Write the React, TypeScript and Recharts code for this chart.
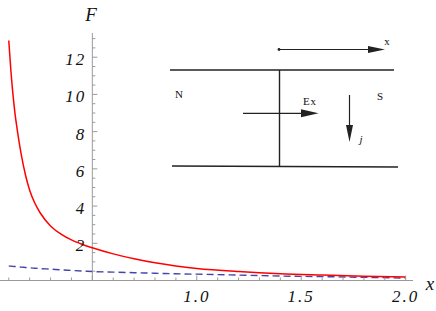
import React from 'react';
import { LineChart, Line, XAxis, YAxis, ReferenceLine, Customized } from 'recharts';

// values
const xValues = [0.1, 0.11, 0.12, 0.13, 0.14, 0.16, 0.18, 0.2, 0.225, 0.25, 0.3, 0.35, 0.4, 0.45, 0.5, 0.6, 0.7, 0.8, 0.9, 1.0, 1.2, 1.4, 1.6, 1.8, 2.0];
const redF = [12.9, 11.3, 10.0, 8.95, 8.14, 6.75, 5.67, 4.85, 4.15, 3.64, 2.93, 2.49, 2.18, 1.95, 1.76, 1.43, 1.17, 0.95, 0.78, 0.65, 0.48, 0.36, 0.29, 0.23, 0.19];
const blueF = [0.78, 0.77, 0.76, 0.75, 0.74, 0.72, 0.7, 0.68, 0.66, 0.64, 0.61, 0.57, 0.54, 0.51, 0.48, 0.45, 0.42, 0.39, 0.36, 0.34, 0.29, 0.24, 0.21, 0.17, 0.13];

const xLabels = [1.0, 1.5, 2.0];
const yLabels = [2, 4, 6, 8, 10, 12];
const xTicks = [0.1, 0.2, 0.3, 0.4, 0.5, 0.6, 0.7, 0.8, 0.9, 1.0, 1.1, 1.2, 1.3, 1.4, 1.5, 1.6, 1.7, 1.8, 1.9, 2.0];
const yTicks = [0.5, 1, 1.5, 2, 2.5, 3, 3.5, 4, 4.5, 5, 5.5, 6, 6.5, 7, 7.5, 8, 8.5, 9, 9.5, 10, 10.5, 11, 11.5, 12, 12.5, 13];

const data = xValues.map((x, i) => ({ x, red: redF[i], blue: blueF[i] }));

const W = 436;
const H = 311;
const X_MIN = 0.058;
const X_MAX = 2.035;
const Y_MAX = 13.3;
const PLOT_LEFT = 0;
const PLOT_W = 413;
const Y_AXIS_AT = 0.5;
const AXIS_X = PLOT_LEFT + ((Y_AXIS_AT - X_MIN) / (X_MAX - X_MIN)) * PLOT_W;

const AXIS_COLOR = '#9a9a9a';
const LABEL_FONT = '"Liberation Serif", "DejaVu Serif", serif';

const near = (a: number, b: number) => Math.abs(a - b) < 1e-6;

const XTick = (props: any) => {
  const { x, y, payload } = props;
  const v = payload.value;
  const labelled = xLabels.some(l => near(l, v));
  const major = labelled || near(v, 0.5);
  return (
    <g>
      <line x1={x} x2={x} y1={y} y2={y - (major ? 5 : 3)} stroke={AXIS_COLOR} strokeWidth={1} />
      {labelled && (
        <text x={x} y={y + 21} textAnchor="middle" fontFamily={LABEL_FONT} fontStyle="italic" fontSize={17} letterSpacing={2} fill="#111">
          {v.toFixed(1)}
        </text>
      )}
    </g>
  );
};

const YTick = (props: any) => {
  const { y, payload } = props;
  const v = payload.value;
  const labelled = yLabels.some(l => near(l, v));
  return (
    <g>
      <line x1={AXIS_X} x2={AXIS_X + (labelled ? 5 : 3)} y1={y} y2={y} stroke={AXIS_COLOR} strokeWidth={1} />
      {labelled && (
        <text x={AXIS_X - 6} y={y + 8} textAnchor="end" fontFamily={LABEL_FONT} fontStyle="italic" fontSize={17} letterSpacing={2} fill="#111">
          {v}
        </text>
      )}
    </g>
  );
};

// inset sketch of the N/S junction, plus the axis names
const Inset = () => {
  const ink = '#222';
  const font = LABEL_FONT;
  return (
    <g>
      <text x={91} y={21} textAnchor="middle" fontFamily={font} fontStyle="italic" fontSize={19} fill="#111">F</text>
      <text x={430} y={290} textAnchor="middle" fontFamily={font} fontStyle="italic" fontSize={19} fill="#111">x</text>

      <line x1={170} y1={70} x2={394} y2={70} stroke={ink} strokeWidth={1.6} />
      <line x1={172} y1={166} x2={398} y2={167} stroke={ink} strokeWidth={1.6} />
      <line x1={279.5} y1={70} x2={279.5} y2={166.5} stroke={ink} strokeWidth={1.4} />

      <circle cx={279} cy={49.5} r={1.4} fill={ink} />
      <line x1={279} y1={49.5} x2={372} y2={49.5} stroke={ink} strokeWidth={1.2} />
      <polygon points="368,46 385,49.5 368,53" fill={ink} />
      <text x={387} y={45} textAnchor="middle" fontFamily={font} fontSize={11} fill="#111">x</text>

      <line x1={243} y1={113.3} x2={305} y2={113.3} stroke={ink} strokeWidth={1.2} />
      <polygon points="301,109.3 318.5,113.3 301,117.3" fill={ink} />
      <text x={310} y={105} textAnchor="middle" fontFamily={font} fontSize={11} letterSpacing={1} fill="#111">Ex</text>

      <line x1={349.5} y1={95} x2={349.5} y2={128} stroke={ink} strokeWidth={1.2} />
      <polygon points="346,125 353,125 349.5,142" fill={ink} />
      <text x={361} y={143} textAnchor="middle" fontFamily={font} fontStyle="italic" fontSize={11} fill="#111">j</text>

      <text x={179} y={98} textAnchor="middle" fontFamily={font} fontSize={11} fill="#111">N</text>
      <text x={380} y={100} textAnchor="middle" fontFamily={font} fontSize={11} fill="#111">S</text>
    </g>
  );
};

const App = () => {
  return (
    <div style={{ position: 'absolute', left: 0, top: 0, width: W, height: H, background: '#fff' }}>
      <LineChart width={W} height={H} data={data} margin={{ top: 33, right: W - PLOT_LEFT - PLOT_W, bottom: 0, left: PLOT_LEFT - 1 }}>
        <XAxis
          dataKey="x"
          type="number"
          domain={[X_MIN, X_MAX]}
          allowDataOverflow
          ticks={xTicks}
          interval={0}
          height={30.5}
          tickSize={0}
          tickMargin={0}
          tickLine={false}
          axisLine={{ stroke: AXIS_COLOR, strokeWidth: 1 }}
          tick={<XTick />}
        />
        <YAxis
          type="number"
          domain={[0, Y_MAX]}
          allowDataOverflow
          ticks={yTicks}
          interval={0}
          width={1}
          tickSize={0}
          tickMargin={0}
          tickLine={false}
          axisLine={false}
          tick={<YTick />}
        />
        <ReferenceLine x={Y_AXIS_AT} stroke={AXIS_COLOR} strokeWidth={1} />
        <Line type="monotone" dataKey="blue" stroke="#4444aa" strokeWidth={1.4} strokeDasharray="7 4" dot={false} isAnimationActive={false} />
        <Line type="monotone" dataKey="red" stroke="#ff0000" strokeWidth={1.5} dot={false} isAnimationActive={false} />
        <Customized component={Inset} />
      </LineChart>
    </div>
  );
};

export default App;
